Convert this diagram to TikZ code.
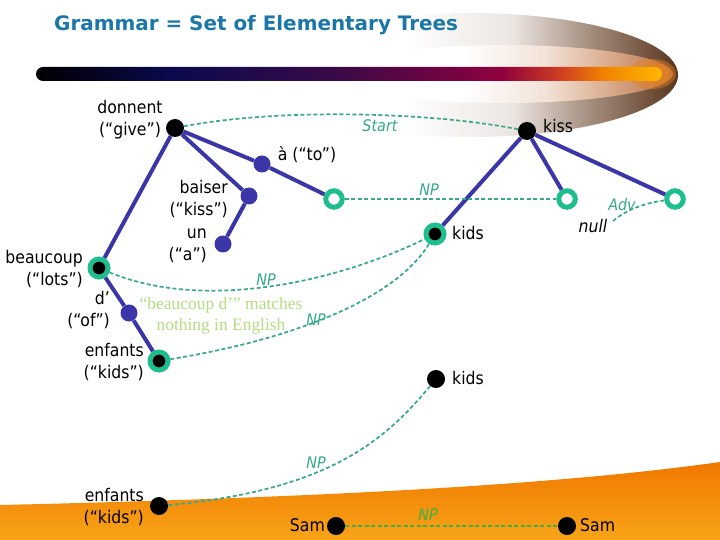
\documentclass[tikz,border=0pt]{standalone}
\usepackage{fontspec}
\setmainfont{DejaVu Sans}[FakeStretch=0.9]
\newfontfamily\titlefont{DejaVu Sans}
\newfontfamily\notefont{Liberation Serif}
\definecolor{titleblue}{HTML}{1A78A8}
\definecolor{treeblue}{HTML}{3A36A8}
\definecolor{ringgreen}{HTML}{1EBE8E}
\definecolor{dashteal}{HTML}{35A890}
\definecolor{notegreen}{HTML}{B4DC82}
\definecolor{samgreen}{HTML}{3CB04A}
\definecolor{swlight}{HTML}{ECE6E2}
\definecolor{swgray}{HTML}{A08878}
\definecolor{swbrown}{HTML}{5A3520}
\definecolor{swtanlight}{HTML}{F2E2D8}
\definecolor{swtan}{HTML}{D8A888}
\definecolor{swtandark}{HTML}{B87048}
\definecolor{barnavy}{HTML}{0A0A4E}
\definecolor{barpurple}{HTML}{380A48}
\definecolor{barcrimson}{HTML}{90003E}
\definecolor{barred}{HTML}{D04020}
\definecolor{barorange}{HTML}{F08000}
\definecolor{bargold}{HTML}{FFB800}
\definecolor{glow}{HTML}{E88018}
\definecolor{bandtop}{HTML}{F07800}
\definecolor{bandbot}{HTML}{F8A418}
\pgfdeclarehorizontalshading{swooshout}{100bp}{color(0bp)=(white); color(42bp)=(white); color(55bp)=(swlight); color(65bp)=(swgray); color(75bp)=(swbrown); color(100bp)=(swbrown)}
\pgfdeclarehorizontalshading{swooshin}{100bp}{color(0bp)=(white); color(44bp)=(white); color(56bp)=(swtanlight); color(66bp)=(swtan); color(75bp)=(swtandark); color(100bp)=(swtandark)}
\pgfdeclarehorizontalshading{barshade}{100bp}{color(0bp)=(black); color(25bp)=(black); color(35.7bp)=(barnavy); color(48.6bp)=(barpurple); color(62.2bp)=(barcrimson); color(67bp)=(barred); color(70.2bp)=(barorange); color(75bp)=(bargold); color(100bp)=(bargold)}
\tikzset{
  blackdot/.style={circle, fill=black, inner sep=0, minimum size=18bp},
  bluedot/.style={circle, fill=treeblue, inner sep=0, minimum size=17bp},
  ringdot/.style={circle, draw=ringgreen, line width=5bp, fill=black, inner sep=0, minimum size=18bp},
  opendot/.style={circle, draw=ringgreen, line width=5bp, fill=white, inner sep=0, minimum size=16.5bp},
  branch/.style={treeblue, line width=4bp},
  subst/.style={dashteal, line width=1.7bp, dash pattern=on 4bp off 2.5bp},
  lbl/.style={font=\fontsize{17.5}{22}\selectfont, inner sep=0, text=black},
  sublbl/.style={font=\fontsize{16}{19}\selectfont\itshape, text=dashteal, inner sep=0},
}
\begin{document}
\begin{tikzpicture}[x=1bp,y=-1bp]
\useasboundingbox (0,0) rectangle (720,540);
\fill[white] (0,0) rectangle (720,540);
% background decoration
\shade[shading=swooshout] (470,75) ellipse [x radius=208bp, y radius=62bp];
\shade[shading=swooshin] (505,74) ellipse [x radius=168bp, y radius=29bp];
\fill[glow, opacity=0.45] (652,74) ellipse [x radius=24bp, y radius=15bp];
\fill[glow, opacity=0.5] (655,74) ellipse [x radius=14bp, y radius=10bp];
\shade[shading=barshade, rounded corners=7bp] (36,67) rectangle (662,81);
\shade[top color=bandtop, bottom color=bandbot] (0,505) .. controls (300,498) and (550,486) .. (720,462) -- (720,540) -- (0,540) -- cycle;
% title
\node[font=\titlefont\bfseries\fontsize{20}{24}\selectfont, text=titleblue, anchor=west, inner sep=0] (title) at (54,25) {Grammar = Set of Elementary Trees};
% nodes
\node[blackdot] (donnent) at (175,128) {};
\node[blackdot] (kiss) at (527,131) {};
\node[bluedot] (aTo) at (262,164) {};
\node[bluedot] (baiser) at (249,196) {};
\node[bluedot] (un) at (223,244) {};
\node[opendot] (open1) at (334,199) {};
\node[ringdot] (beaucoup) at (99,268) {};
\node[bluedot] (dOf) at (129,313) {};
\node[ringdot] (enfants) at (159,361) {};
\node[ringdot] (kidsA) at (435,234) {};
\node[opendot] (open2) at (567,199) {};
\node[opendot] (open3) at (675,199) {};
\node[blackdot] (kidsB) at (436,379) {};
\node[blackdot] (enfants2) at (159,506) {};
\node[blackdot] (samL) at (336,526) {};
\node[blackdot] (samR) at (567,526) {};
\coordinate (nullEnd) at (612,222);
% branches
\draw[branch] (donnent) -- (beaucoup);
\draw[branch] (donnent) -- (baiser) -- (un);
\draw[branch] (donnent) -- (aTo) -- (open1);
\draw[branch] (beaucoup) -- (dOf) -- (enfants);
\draw[branch] (kiss) -- (kidsA);
\draw[branch] (kiss) -- (open2);
\draw[branch] (kiss) -- (open3);
% substitution lines
\draw[subst] (donnent) .. controls (280,108) and (430,112) .. (kiss);
\draw[subst] (open1) -- (open2);
\draw[subst] (open3) .. controls (645,203) and (625,210) .. (nullEnd);
\draw[subst] (beaucoup) .. controls (200,310) and (330,285) .. (kidsA);
\draw[subst] (enfants) .. controls (290,340) and (395,300) .. (kidsA);
\draw[subst] (kidsB) .. controls (385,440) and (330,490) .. (enfants2);
\draw[subst, samgreen] (samL) -- (samR);
% labels
\node[lbl, align=center] (donnentL) at (130,120) {donnent\\(“give”)};
\node[lbl, anchor=west] (kissL) at (543,126) {kiss};
\node[lbl] (aToL) at (307,155) {à (“to”)};
\node[lbl, align=right, anchor=east] (baiserL) at (228,199) {baiser\\(“kiss”)};
\node[lbl, align=right, anchor=east] (unL) at (207,246) {un\\(“a”)};
\node[lbl, align=right, anchor=east] (beaucoupL) at (83,269) {beaucoup\\(“lots”)};
\node[lbl, align=right, anchor=east] (dOfL) at (110,310) {d’\\(“of”)};
\node[lbl, align=right, anchor=east] (enfantsL) at (144,362) {enfants\\(“kids”)};
\node[lbl, anchor=west] (kidsAL) at (452,233) {kids};
\node[lbl, anchor=west] (kidsBL) at (452,378) {kids};
\node[lbl, align=right, anchor=east] (enfants2L) at (144,507) {enfants\\(“kids”)};
\node[lbl, anchor=east] (samLL) at (325,525) {Sam};
\node[lbl, anchor=west] (samRL) at (580,525) {Sam};
\node[lbl, font=\fontsize{17.5}{22}\selectfont\itshape] (nullL) at (593,226) {null};
\node[sublbl] (startL) at (380,126) {Start};
\node[sublbl] (npTop) at (429,190) {NP};
\node[sublbl] (advL) at (622,205) {Adv};
\node[sublbl] (npBeau) at (266,280) {NP};
\node[sublbl] (npEnf) at (316,320) {NP};
\node[sublbl] (npBot) at (316,463) {NP};
\node[sublbl, text=samgreen] (npSam) at (428,515) {NP};
\node[font=\notefont\fontsize{17.5}{21}\selectfont, text=notegreen, align=center, inner sep=0] (note) at (221,316) {“beaucoup d’” matches\\nothing in English};
\end{tikzpicture}
\end{document}
